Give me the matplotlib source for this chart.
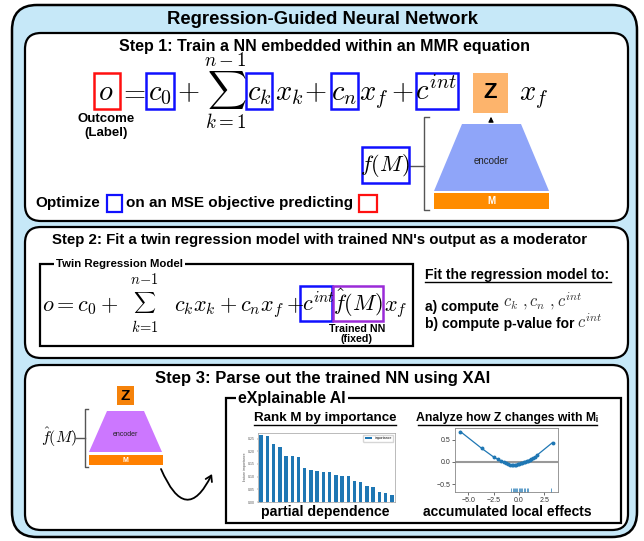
import matplotlib.pyplot as plt
import numpy as np
from matplotlib.patches import FancyBboxPatch, Rectangle, Polygon, FancyArrowPatch
from matplotlib.path import Path

plt.rcParams['mathtext.fontset'] = 'cm'
plt.rcParams['font.family'] = ['Liberation Sans', 'DejaVu Sans']

# feature importance bars (step 3, left inset)
importance = [0.265, 0.261, 0.230, 0.218, 0.182, 0.181, 0.179, 0.133, 0.127, 0.124,
              0.120, 0.118, 0.107, 0.103, 0.103, 0.084, 0.078, 0.063, 0.059, 0.041,
              0.034, 0.029]
imp_yticks = [0.0, 0.05, 0.10, 0.15, 0.20, 0.25]

# accumulated local effects curve (step 3, right inset)
ale_x = [-5.8, -3.7, -2.5, -2.1, -1.8, -1.5, -1.3, -1.1, -0.9, -0.75, -0.6, -0.45, -0.3,
         -0.15, 0.0, 0.15, 0.3, 0.45, 0.6, 0.75, 0.9, 1.05, 1.2, 1.4, 1.6, 1.8, 3.3]
ale_y = [0.69, 0.31, 0.11, 0.06, 0.03, 0.0, -0.02, -0.04, -0.06, -0.07, -0.075, -0.07,
         -0.06, -0.05, -0.04, -0.03, -0.02, -0.01, 0.005, 0.02, 0.03, 0.045, 0.06, 0.08,
         0.11, 0.16, 0.44]
rug_x = [-0.8, -0.65, -0.55, -0.4, -0.3, -0.2, -0.05, 0.05, 0.2, 0.3, 0.45, 0.6, 0.75, 0.9, 3.1]
ale_xticks = [-5.0, -2.5, 0.0, 2.5]
ale_yticks = [-0.5, 0.0, 0.5]

W, H = 644, 541
fig = plt.figure(figsize=(W / 100, H / 100), dpi=100)
ax = fig.add_axes([0, 0, 1, 1])
ax.set_xlim(0, W)
ax.set_ylim(H, 0)
ax.axis('off')

BLUE = '#1010ff'
RED = '#ff1010'
PURPLE = '#9a2bd8'


def rbox(x0, y0, x1, y1, r, fc='white', lw=1.6, z=1):
    ax.add_patch(FancyBboxPatch((x0, y0), x1 - x0, y1 - y0,
                                boxstyle=f'round,pad=0,rounding_size={r}',
                                fc=fc, ec='black', lw=lw, zorder=z))


def box(x0, y0, x1, y1, ec, lw=1.8, fc='none', z=3):
    ax.add_patch(Rectangle((x0, y0), x1 - x0, y1 - y0, fc=fc, ec=ec, lw=lw, zorder=z))


def txt(x, y, s, size, weight='bold', ha='center', va='center', **kw):
    return ax.text(x, y, s, fontsize=size, fontweight=weight, ha=ha, va=va, zorder=5, **kw)


def math(x, y, s, size, ha='center', **kw):
    return ax.text(x, y, s, fontsize=size, ha=ha, va='baseline', zorder=5, **kw)


def uline(x0, x1, y):
    ax.plot([x0, x1], [y, y], color='black', lw=1.0, zorder=5)


def px_axes(x0, y0, x1, y1):
    return fig.add_axes([x0 / W, 1 - y1 / H, (x1 - x0) / W, (y1 - y0) / H])


# outer panel and the three step panels
rbox(12, 5, 637, 537, 25, fc='#c6e8f8', lw=1.8, z=0)
txt(323, 19, 'Regression-Guided Neural Network', 13.3)
rbox(25, 33, 628, 221, 16)
rbox(25, 227, 628, 358, 16)
rbox(25, 365, 628, 530, 16)

# ---- step 1
txt(325, 46, 'Step 1: Train a NN embedded within an MMR equation', 11.5)
eq = 20.5
yb = 100
math(106, yb, '$o$', eq)
math(133, yb, '$=$', eq)
math(160, yb, '$c_0$', eq)
math(188, yb, '$+$', eq)
math(225, yb, r'$\sum_{k=1}^{n-1}$', 19.5)
math(259, yb, '$c_k$', eq)
math(289, yb, '$x_k$', eq)
math(315, yb, '$+$', eq)
math(344, yb, '$c_n$', eq)
math(374, yb, '$x_f$', eq)
math(402, yb, '$+$', eq)
math(436, yb, '$c^{int}$', eq)
math(534, yb, '$x_f$', eq)
box(94, 73, 120, 109, RED)
box(146, 73, 174, 109, BLUE)
box(246, 73, 272, 109, BLUE)
box(331, 73, 358, 109, BLUE)
box(416, 73, 458, 109, BLUE)
ax.add_patch(Rectangle((473, 73), 35, 40, fc='#fdb46c', ec='none', zorder=2))
txt(490, 93, 'Z', 16)
txt(106, 119, 'Outcome', 9.5)
txt(106, 133, '(Label)', 9.5)

# encoder sketch
ax.add_patch(Polygon([(462, 124), (521, 124), (549, 191), (434, 191)], fc='#8fa5f9', ec='none', zorder=2))
ax.add_patch(Rectangle((434, 193), 115, 16, fc='#ff8c00', ec='none', zorder=2))
txt(491, 161, 'encoder', 7, weight='normal', color='#222222')
txt(491, 201, 'M', 7, color='white')
ax.annotate('', xy=(491, 114), xytext=(491, 124),
            arrowprops=dict(arrowstyle='-|>,head_length=0.3,head_width=0.15', color='black', lw=0.8))
ax.plot([429, 424, 424, 429], [117, 117, 210, 210], color='#555555', lw=1.0)
ax.plot([409, 424], [166, 166], color='#555555', lw=1.0)
math(385, 171, '$f(M)$', 16)
box(362, 147, 409, 183, BLUE)

txt(35, 203, 'Optimize', 11, ha='left')
box(107, 195, 122, 212, BLUE, lw=1.6)
txt(126, 203, 'on an MSE objective predicting', 11, ha='left')
box(359, 195, 377, 212, RED, lw=1.6)

# ---- step 2
txt(320, 240, "Step 2: Fit a twin regression model with trained NN's output as a moderator", 10.8)
box(40, 264, 413, 346, 'black', lw=1.6, z=2)
txt(56, 264, 'Twin Regression Model', 8.2, ha='left',
    bbox=dict(fc='white', ec='none', pad=1.5))
eq2 = 16
yb2 = 311
math(42, yb2, '$o=c_0+$', eq2, ha='left')
math(145, 308, r'$\sum$', 11)
math(145, 284, r'$n\!-\!1$', 10.5)
math(145, 332, r'$k\!=\!1$', 10.5)
math(174, yb2, '$c_kx_k+c_nx_f+$', eq2, ha='left')
math(302, yb2, '$c^{int}$', eq2, ha='left')
math(358, yb2, r'$\hat{f}(M)$', eq2)
math(396, yb2, '$x_f$', eq2)
box(300, 286, 332, 321, BLUE)
box(333, 286, 383, 321, PURPLE)
txt(357, 329, 'Trained NN', 7.7)
txt(357, 339, '(fixed)', 7.7)

txt(425, 275, 'Fit the regression model to:', 10.1, ha='left')
uline(425, 611, 282)
txt(425, 307, 'a) compute', 10, ha='left')
math(503, 307, r'$c_k\ ,c_n\ ,c^{int}$', 12, ha='left', color='#333333')
txt(425, 324, 'b) compute p-value for', 10, ha='left')
math(577, 328, r'$c^{int}$', 12, ha='left', color='#333333')

# ---- step 3
txt(323, 378, 'Step 3: Parse out the trained NN using XAI', 12)
ax.add_patch(Rectangle((117, 386), 17, 19, fc='#f5820a', ec='none', zorder=2))
txt(125.5, 396, 'Z', 11)
ax.add_patch(Polygon([(107, 411), (144, 411), (162, 452), (89, 452)], fc='#cc77ff', ec='none', zorder=2))
ax.add_patch(Rectangle((89, 455), 74, 9.5, fc='#ff8000', ec='none', zorder=2))
txt(125.5, 434, 'encoder', 5, weight='normal', color='#222222')
txt(125.5, 460, 'M', 5, color='white')
ax.plot([88, 85, 85, 88], [409, 409, 467, 467], color='#555555', lw=1.0)
ax.plot([76, 85], [438, 438], color='#555555', lw=1.0)
math(59, 443, r'$\hat{f}(M)$', 11.5)
curve = Path([(161, 469), (186, 527), (212, 474)], [Path.MOVETO, Path.CURVE3, Path.CURVE3])
ax.add_patch(FancyArrowPatch(path=curve, arrowstyle='->,head_length=4,head_width=2.5',
                             color='black', lw=1.3, zorder=4))

box(226, 398, 621, 523, 'black', lw=1.6, z=2)
txt(238, 398, 'eXplainable AI', 11.4, ha='left', bbox=dict(fc='white', ec='none', pad=1.5))
txt(325, 418, 'Rank M by importance', 9.6)
uline(254, 396, 425)
txt(507, 418, 'Analyze how Z changes with Mᵢ', 8.8)
uline(418, 597, 425)
txt(325, 512, 'partial dependence', 10.2)
txt(507, 512, 'accumulated local effects', 10)

# bar inset
bx = px_axes(258, 433, 395, 502)
bx.bar(range(len(importance)), importance, width=0.55, color='#1f77b4', label='importance')
bx.set_xlim(-0.5, len(importance) - 0.5)
bx.set_ylim(0, 0.272)
bx.set_yticks(imp_yticks)
bx.set_yticklabels([f'{v:.2f}' for v in imp_yticks])
bx.set_xticks(range(len(importance)))
bx.set_xticklabels([''] * len(importance))
bx.tick_params(labelsize=2.5, length=1, width=0.3, pad=1, colors='#555555')
bx.set_ylabel('feature importance', fontsize=2.5, labelpad=1, color='#555555')
bx.legend(fontsize=2.5, loc='upper right', frameon=True, handlelength=2, borderpad=0.4)
for s in bx.spines.values():
    s.set_linewidth(0.4)
    s.set_color('#888888')

# ALE inset
lx = px_axes(455, 428, 558, 492)
lx.axhline(0, color='#999999', lw=1.5, zorder=1)
lx.plot(ale_x, ale_y, color='#1f77b4', lw=0.9, marker='o', ms=1.8, zorder=2)
lx.plot(rug_x, [-0.66] * len(rug_x), '|', color='#1f77b4', ms=4, mew=0.5)
lx.set_xlim(-6.33, 3.84)
lx.set_ylim(-0.68, 0.77)
lx.set_xticks(ale_xticks)
lx.set_yticks(ale_yticks)
lx.tick_params(labelsize=5, length=2, width=0.5, pad=1.5, colors='#333333')
for s in lx.spines.values():
    s.set_linewidth(0.6)
    s.set_color('#888888')

fig.savefig('out.png', dpi=100)
